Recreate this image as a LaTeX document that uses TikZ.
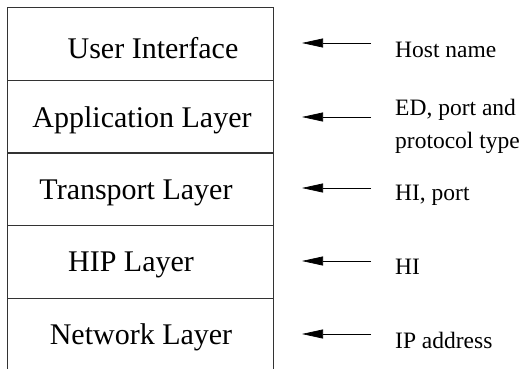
\documentclass[tikz,border=0pt]{standalone}
\usepackage{fontspec}
\setmainfont{Liberation Serif}
\usepackage{tikz}
\usetikzlibrary{arrows.meta, calc, positioning}

\begin{document}
\begin{tikzpicture}[x=1pt, y=-1pt,
  layerbox/.style = {draw=black!80, line width=0.8pt, minimum width=266pt, minimum height=73pt, inner sep=0pt},
  layertxt/.style = {font=\fontsize{30}{36}\selectfont, inner sep=0pt},
  lbl/.style = {font=\fontsize{23.5}{33}\selectfont, align=left, anchor=west, inner sep=0pt},
  arr/.style = {-{Triangle[length=21pt,width=9pt]}, line width=0.7pt, color=black},
]
\clip (0,0) rectangle (525,368);
\node[layerbox] (ui)  at (140, 43.5) {};
\node[layerbox] (app) at (140, 116.5) {};
\node[layerbox] (tra) at (140, 189) {};
\node[layerbox] (hip) at (140, 261.5) {};
\node[layerbox] (net) at (140, 334.5) {};
\node[layertxt] (uit)  at (153, 48) {User Interface};
\node[layertxt] (appt) at (142, 120) {Application Layer};
\node[layertxt] (trat) at (136, 193) {Transport Layer};
\node[layertxt] (hipt) at (131, 265) {HIP Layer};
\node[layertxt] (nett) at (141, 337) {Network Layer};
\node[lbl] (host) at (395, 50) {Host name};
\node[lbl] (edp)  at (395, 126) {ED, port and\\protocol type};
\node[lbl] (hip2) at (395, 195) {HI, port};
\node[lbl] (hi)   at (395, 267) {HI};
\node[lbl] (ip)   at (395, 340) {IP address};
\coordinate (t1) at (371, 43);  \coordinate (h1) at (302, 43);
\coordinate (t2) at (371, 117); \coordinate (h2) at (302, 117);
\coordinate (t3) at (371, 188); \coordinate (h3) at (302, 188);
\coordinate (t4) at (371, 261); \coordinate (h4) at (302, 261);
\coordinate (t5) at (371, 334); \coordinate (h5) at (302, 334);
\draw[arr] (t1) -- (h1);
\draw[arr] (t2) -- (h2);
\draw[arr] (t3) -- (h3);
\draw[arr] (t4) -- (h4);
\draw[arr] (t5) -- (h5);
\end{tikzpicture}
\end{document}
